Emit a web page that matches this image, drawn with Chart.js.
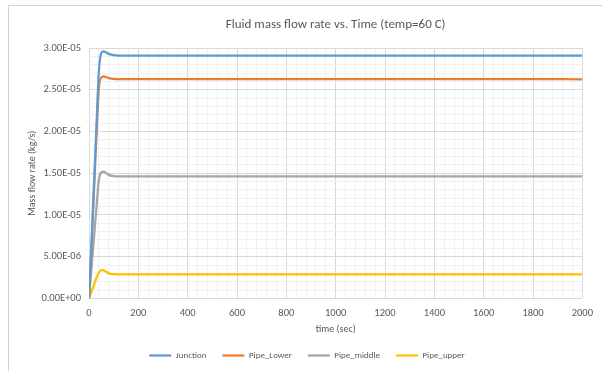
<!DOCTYPE html>
<html>
<head>
<meta charset="utf-8">
<script src="https://cdn.jsdelivr.net/npm/chart.js@4.4.1/dist/chart.umd.min.js"></script>
<style>
  body { margin: 0; background: #fff; }
  #frame { position: absolute; left: 8px; top: 5px; width: 640px; height: 400px; border: 1px solid #d4d4d4; }
  #wrap { position: absolute; left: 0; top: 0; width: 602px; height: 371px; }
</style>
</head>
<body>
<div id="frame"></div>
<div id="wrap"><canvas id="flowChart"></canvas></div>
<script>
// time in seconds
const timeSec = [0, 10, 20, 30, 40, 50, 60, 70, 80, 100, 120, 150, 200, 400, 600, 800, 1000, 1200, 1400, 1600, 1800, 2000];

// mass flow rate (kg/s)
const junction   = [0, 0.65e-5, 1.35e-5, 2.05e-5, 2.72e-5, 2.94e-5, 2.96e-5, 2.945e-5, 2.93e-5, 2.915e-5, 2.91e-5, 2.91e-5, 2.91e-5, 2.91e-5, 2.91e-5, 2.91e-5, 2.91e-5, 2.91e-5, 2.91e-5, 2.91e-5, 2.91e-5, 2.91e-5];
const pipeLower  = [0, 0.62e-5, 1.28e-5, 1.93e-5, 2.52e-5, 2.645e-5, 2.66e-5, 2.65e-5, 2.64e-5, 2.63e-5, 2.628e-5, 2.628e-5, 2.628e-5, 2.628e-5, 2.628e-5, 2.628e-5, 2.628e-5, 2.628e-5, 2.628e-5, 2.628e-5, 2.628e-5, 2.625e-5];
const pipeMiddle = [0, 0.36e-5, 0.72e-5, 1.08e-5, 1.42e-5, 1.51e-5, 1.52e-5, 1.5e-5, 1.48e-5, 1.465e-5, 1.462e-5, 1.462e-5, 1.462e-5, 1.462e-5, 1.462e-5, 1.462e-5, 1.462e-5, 1.462e-5, 1.462e-5, 1.462e-5, 1.462e-5, 1.462e-5];
const pipeUpper  = [0, 0.08e-5, 0.16e-5, 0.245e-5, 0.31e-5, 0.34e-5, 0.335e-5, 0.32e-5, 0.3e-5, 0.29e-5, 0.288e-5, 0.288e-5, 0.288e-5, 0.288e-5, 0.288e-5, 0.288e-5, 0.288e-5, 0.288e-5, 0.288e-5, 0.288e-5, 0.288e-5, 0.288e-5];

const seriesNames  = ['Junction', 'Pipe_Lower', 'Pipe_middle', 'Pipe_upper'];
const seriesValues = [junction, pipeLower, pipeMiddle, pipeUpper];
const seriesColors = ['#5B9BD5', '#ED7D31', '#A5A5A5', '#FFC000'];

const chartTitle = 'Fluid mass flow rate vs. Time (temp=60 C)';

const xMajor = 200, xMinor = 40;
const yMajor = 5e-6, yMinor = 1e-6;

function sciLabel(v) {
    // Excel-style 0.00E+00
    let s = v.toExponential(2).toUpperCase();
    let m = s.match(/^(.*)E([+-])(\d+)$/);
    let exp = m[3].length < 2 ? '0' + m[3] : m[3];
    return m[1] + 'E' + m[2] + exp;
}

function isMajor(v, step) {
    let r = Math.abs(v / step - Math.round(v / step));
    return r < 1e-6;
}

const textColor = '#595959';
const font = 'Calibri, Carlito, "Open Sans", sans-serif';

const datasets = seriesNames.map(function(name, i) {
    return {
        label: name,
        data: timeSec.map(function(t, j) { return { x: t, y: seriesValues[i][j] }; }),
        borderColor: seriesColors[i],
        backgroundColor: seriesColors[i],
        borderWidth: 2.25,
        pointRadius: 0,
        cubicInterpolationMode: 'monotone',
        fill: false
    };
});

// Excel centres the title over the plot area, not the whole canvas
const plotTitle = {
    id: 'plotTitle',
    afterDraw: function(chart) {
        const ctx = chart.ctx, area = chart.chartArea;
        ctx.save();
        ctx.font = '13px ' + font;
        ctx.fillStyle = textColor;
        ctx.textAlign = 'center';
        ctx.textBaseline = 'middle';
        ctx.fillText(chartTitle, (area.left + area.right) / 2, 25);
        ctx.restore();
    }
};

new Chart(document.getElementById('flowChart').getContext('2d'), {
    type: 'line',
    data: { datasets: datasets },
    options: {
        responsive: true,
        maintainAspectRatio: false,
        animation: false,
        layout: { padding: { left: 26, right: 14, top: 48, bottom: 1 } },
        plugins: {
            title: { display: false },
            legend: {
                position: 'bottom',
                labels: {
                    color: textColor,
                    font: { family: font, size: 9 },
                    usePointStyle: true,
                    pointStyle: 'line',
                    pointStyleWidth: 22,
                    padding: 16
                }
            },
            tooltip: { enabled: false }
        },
        scales: {
            x: {
                type: 'linear',
                min: 0,
                max: 2000,
                ticks: {
                    stepSize: xMinor,
                    autoSkip: false,
                    maxRotation: 0,
                    padding: 9,
                    color: textColor,
                    font: { family: font, size: 10.5 },
                    callback: function(v) { return isMajor(v, xMajor) ? String(v) : ''; }
                },
                grid: {
                    drawTicks: false,
                    color: function(ctx) { return isMajor(ctx.tick.value, xMajor) ? '#d9d9d9' : '#f0f0f0'; }
                },
                border: { display: false },
                title: {
                    display: true,
                    text: 'time (sec)',
                    color: textColor,
                    font: { family: font, size: 10 },
                    padding: { top: 2, bottom: 0 }
                },
                afterFit: function(scale) { scale.height -= 8; }
            },
            y: {
                min: 0,
                max: 3e-5,
                ticks: {
                    stepSize: yMinor,
                    autoSkip: false,
                    color: textColor,
                    font: { family: font, size: 10.5 },
                    padding: 8,
                    callback: function(v) { return isMajor(v, yMajor) ? sciLabel(v) : ''; }
                },
                grid: {
                    drawTicks: false,
                    color: function(ctx) { return isMajor(ctx.tick.value, yMajor) ? '#d9d9d9' : '#f0f0f0'; }
                },
                border: { display: false },
                title: {
                    display: true,
                    text: 'Mass flow rate (kg/s)',
                    color: textColor,
                    font: { family: font, size: 10 },
                    padding: { top: 0, bottom: 4 }
                },
                afterFit: function(scale) { scale.width = 63; }
            }
        }
    },
    plugins: [plotTitle]
});
</script>
</body>
</html>
